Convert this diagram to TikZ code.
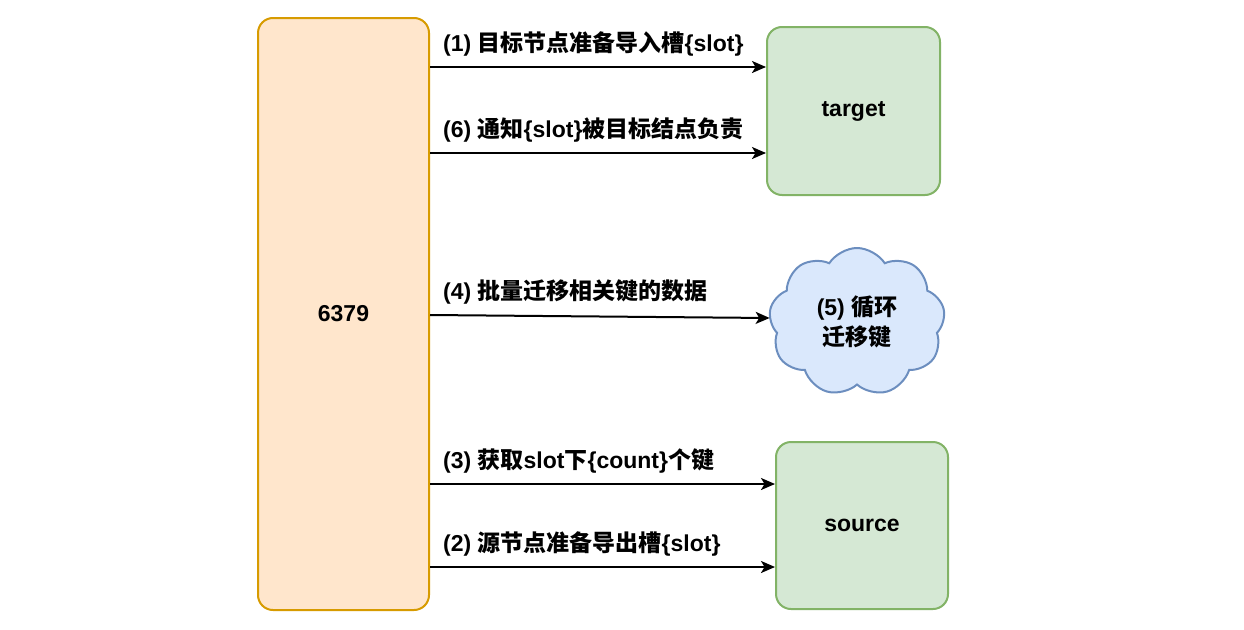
\documentclass[tikz,border=0pt]{standalone}
\usepackage{fontspec}
\setmainfont{Liberation Sans}
\newfontfamily\cjk{Noto Sans CJK SC}
\usetikzlibrary{arrows}
\usetikzlibrary{arrows.meta}
\usetikzlibrary{calc}
\usetikzlibrary{shapes.symbols}

\definecolor{portfill}{HTML}{FFE6CC}
\definecolor{portline}{HTML}{D79B00}
\definecolor{nodefill}{HTML}{D5E8D4}
\definecolor{nodeline}{HTML}{82B366}
\definecolor{cloudfill}{HTML}{DAE8FC}
\definecolor{cloudline}{HTML}{6C8EBF}

\newcommand{\zh}[1]{{\cjk #1}}

\tikzset{
  box/.style={draw,rectangle,rounded corners=15pt,line width=2pt,
    font=\bfseries\fontsize{23}{28}\selectfont},
  lbl/.style={anchor=base west,inner sep=0pt,
    font=\bfseries\fontsize{23}{28}\selectfont}
}

\begin{document}
\begin{tikzpicture}[x=1pt,y=-1pt]

  \useasboundingbox (0,0) rectangle (1244,629);

  \node [box,fill=portfill,draw=portline,minimum width=171pt,minimum height=592pt] (port) at (343.5,314) {6379};
  \node [box,fill=nodefill,draw=nodeline,minimum width=173pt,minimum height=168pt] (target) at (853.5,111) {target};
  \node [box,fill=nodefill,draw=nodeline,minimum width=172pt,minimum height=167pt] (source) at (862,525.5) {source};
  \node [cloud,cloud puffs=9,cloud puff arc=115,cloud ignores aspect,draw=cloudline,fill=cloudfill,line width=2pt,
    minimum width=176pt,minimum height=148pt,align=center,
    font=\bfseries\fontsize{23}{30}\selectfont] (loop) at (857,322) {(5) \zh{循环}\\\zh{迁移键}};

  \coordinate (t1) at (target.west |- 0,67);
  \coordinate (t6) at (target.west |- 0,153);
  \coordinate (c4) at (loop.west |- 0,318);
  \coordinate (s3) at (source.west |- 0,484);
  \coordinate (s2) at (source.west |- 0,567);

  \path [line width=2pt,>={Stealth[length=14pt,width=12pt,inset=3.5pt]}]
    (port.east |- t1)    edge [->] (t1)
    (port.east |- t6)    edge [->] (t6)
    (port.east |- 0,315) edge [->] (c4)
    (port.east |- s3)    edge [->] (s3)
    (port.east |- s2)    edge [->] (s2);

  \node [lbl] (l1) at (443,51)  {(1) \zh{目标节点准备导入槽}\{slot\}};
  \node [lbl] (l6) at (443,137) {(6) \zh{通知}\{slot\}\zh{被目标结点负责}};
  \node [lbl] (l4) at (443,299) {(4) \zh{批量迁移相关键的数据}};
  \node [lbl] (l3) at (443,468) {(3) \zh{获取}slot\zh{下}\{count\}\zh{个键}};
  \node [lbl] (l2) at (443,551) {(2) \zh{源节点准备导出槽}\{slot\}};

\end{tikzpicture}
\end{document}
